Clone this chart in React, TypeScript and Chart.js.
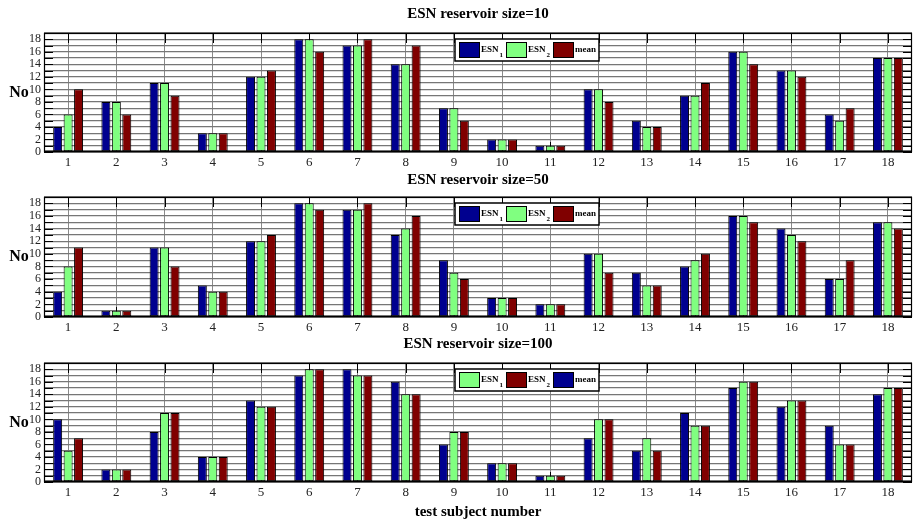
import React, { useEffect, useRef } from "react";
import { Chart, registerables } from "chart.js";

Chart.register(...registerables);

// ---------- data ----------
const categories = ["1", "2", "3", "4", "5", "6", "7", "8", "9", "10", "11", "12", "13", "14", "15", "16", "17", "18"];
const yLabelValues = [0, 2, 4, 6, 8, 10, 12, 14, 16, 18];
const yMax = 19;

// reservoir size = 10
const size10Blue = [4, 8, 11, 3, 12, 18, 17, 14, 7, 2, 1, 10, 5, 9, 16, 13, 6, 15];
const size10Green = [6, 8, 11, 3, 12, 18, 17, 14, 7, 2, 1, 10, 4, 9, 16, 13, 5, 15];
const size10Red = [10, 6, 9, 3, 13, 16, 18, 17, 5, 2, 1, 8, 4, 11, 14, 12, 7, 15];

// reservoir size = 50
const size50Blue = [4, 1, 11, 5, 12, 18, 17, 13, 9, 3, 2, 10, 7, 8, 16, 14, 6, 15];
const size50Green = [8, 1, 11, 4, 12, 18, 17, 14, 7, 3, 2, 10, 5, 9, 16, 13, 6, 15];
const size50Red = [11, 1, 8, 4, 13, 17, 18, 16, 6, 3, 2, 7, 5, 10, 15, 12, 9, 14];

// reservoir size = 100
const size100Blue = [10, 2, 8, 4, 13, 17, 18, 16, 6, 3, 1, 7, 5, 11, 15, 12, 9, 14];
const size100Green = [5, 2, 11, 4, 12, 18, 17, 14, 8, 3, 1, 10, 7, 9, 16, 13, 6, 15];
const size100Red = [7, 2, 11, 4, 12, 18, 17, 14, 8, 3, 1, 10, 5, 9, 16, 13, 6, 15];

const titles = ["ESN reservoir size=10", "ESN reservoir size=50", "ESN reservoir size=100"];
const yAxisLabel = "No";
const xAxisLabel = "test subject number";

const BLUE = "#00008F";
const GREEN = "#80FF80";
const RED = "#800000";

type LegendItem = { text: string; sub: string; color: string };

const legendA: LegendItem[] = [
  { text: "ESN", sub: "1", color: BLUE },
  { text: "ESN", sub: "2", color: GREEN },
  { text: "mean", sub: "", color: RED },
];
const legendB: LegendItem[] = [
  { text: "ESN", sub: "1", color: GREEN },
  { text: "ESN", sub: "2", color: RED },
  { text: "mean", sub: "", color: BLUE },
];

type PanelCfg = {
  title: string;
  blue: number[];
  green: number[];
  red: number[];
  labels: string[];
  legend: LegendItem[];
  top: number;
  height: number;
  padTop: number;
  padBottom: number;
  titleY: number;
  xlabelY: number | null;
};

const panels: PanelCfg[] = [
  {
    title: titles[0], blue: size10Blue, green: size10Green, red: size10Red,
    labels: ["ESN1", "ESN2", "mean"], legend: legendA,
    top: 0, height: 170, padTop: 33, padBottom: 0, titleY: 14, xlabelY: null,
  },
  {
    title: titles[1], blue: size50Blue, green: size50Green, red: size50Red,
    labels: ["ESN1", "ESN2", "mean"], legend: legendA,
    top: 170, height: 166, padTop: 27, padBottom: 1, titleY: 10, xlabelY: null,
  },
  {
    title: titles[2], blue: size100Blue, green: size100Green, red: size100Red,
    labels: ["mean", "ESN1", "ESN2"], legend: legendB,
    top: 336, height: 191, padTop: 27, padBottom: 27, titleY: 8, xlabelY: 176,
  },
];

const FONT = "'Liberation Serif', 'Times New Roman', serif";

const decorPlugin = {
  id: "decor",
  beforeDatasetsDraw(chart: any) {
    const { ctx, chartArea: a, scales } = chart;
    const xs = scales.x;
    const ys = scales.y;
    ctx.save();
    ctx.strokeStyle = "#000";
    ctx.lineWidth = 1;
    ctx.beginPath();
    for (let v = 0; v <= yMax; v++) {
      const py = Math.round(ys.getPixelForValue(v)) + 0.5;
      ctx.moveTo(a.left, py);
      ctx.lineTo(a.left + 9, py);
      ctx.moveTo(a.right, py);
      ctx.lineTo(a.right - 9, py);
    }
    for (let i = 0; i < categories.length; i++) {
      const px = Math.round(xs.getPixelForValue(i)) + 0.5;
      ctx.moveTo(px, a.top);
      ctx.lineTo(px, a.top + 10);
      ctx.moveTo(px, a.bottom);
      ctx.lineTo(px, a.bottom - 10);
    }
    ctx.stroke();
    ctx.restore();
  },
  afterDatasetsDraw(chart: any, _args: any, opts: any) {
    const { ctx, chartArea: a } = chart;
    ctx.save();
    ctx.strokeStyle = "#000";
    // frame
    ctx.lineWidth = 1.2;
    ctx.strokeRect(a.left + 0.5, a.top + 0.5, a.right - a.left - 1, a.bottom - a.top - 1);
    ctx.lineWidth = 2;
    ctx.beginPath();
    ctx.moveTo(a.left, a.bottom - 0.5);
    ctx.lineTo(a.right, a.bottom - 0.5);
    ctx.stroke();

    // legend
    const bx = a.left + 411;
    const by = a.top + 6;
    const bw = 144;
    const bh = 22;
    ctx.fillStyle = "#fff";
    ctx.fillRect(bx, by, bw, bh);
    ctx.lineWidth = 1.5;
    ctx.strokeRect(bx, by, bw, bh);
    const offsets = [4, 51, 98];
    (opts.legend as LegendItem[]).forEach((it, i) => {
      const sx = bx + offsets[i];
      ctx.fillStyle = it.color;
      ctx.fillRect(sx, by + 3.5, 20, 15);
      ctx.lineWidth = 1;
      ctx.strokeRect(sx + 0.5, by + 3.5, 20, 15);
      ctx.fillStyle = "#000";
      ctx.font = `bold 9px ${FONT}`;
      ctx.textAlign = "left";
      ctx.textBaseline = "middle";
      ctx.fillText(it.text, sx + 22, by + 10.5);
      if (it.sub) {
        const w = ctx.measureText(it.text).width;
        ctx.font = `bold 7px ${FONT}`;
        ctx.fillText(it.sub, sx + 23 + w, by + 16);
      }
    });
    ctx.restore();
  },
  afterDraw(chart: any, _args: any, opts: any) {
    const { ctx, chartArea: a } = chart;
    ctx.save();
    ctx.fillStyle = "#000";
    ctx.textAlign = "center";
    ctx.textBaseline = "middle";
    const cx = (a.left + a.right) / 2;
    ctx.font = `bold 15px ${FONT}`;
    ctx.fillText(opts.title, cx, opts.titleY);
    ctx.font = `bold 16px ${FONT}`;
    ctx.fillText(yAxisLabel, 19, (a.top + a.bottom) / 2);
    if (opts.xlabelY != null) {
      ctx.font = `bold 15px ${FONT}`;
      ctx.fillText(xAxisLabel, cx, opts.xlabelY);
    }
    ctx.restore();
  },
};

function Panel({ cfg }: { cfg: PanelCfg }) {
  const ref = useRef<HTMLCanvasElement>(null);
  useEffect(() => {
    const common = {
      borderColor: "#000",
      borderWidth: 1,
      borderSkipped: false,
      categoryPercentage: 0.65,
      barPercentage: 0.86,
    };
    const chart = new Chart(ref.current as HTMLCanvasElement, {
      type: "bar",
      data: {
        labels: categories,
        datasets: [
          { ...common, label: cfg.labels[0], data: cfg.blue, backgroundColor: BLUE },
          { ...common, label: cfg.labels[1], data: cfg.green, backgroundColor: GREEN },
          { ...common, label: cfg.labels[2], data: cfg.red, backgroundColor: RED },
        ] as any,
      },
      options: {
        responsive: false,
        animation: false,
        layout: { padding: { top: cfg.padTop, bottom: cfg.padBottom, left: 0, right: 2 } },
        plugins: {
          legend: { display: false },
          title: { display: false },
          tooltip: { enabled: false },
          decor: { title: cfg.title, titleY: cfg.titleY, legend: cfg.legend, xlabelY: cfg.xlabelY },
        } as any,
        scales: {
          x: {
            grid: { offset: false, color: "#8a8a8a", lineWidth: 1, drawTicks: false },
            border: { display: false },
            ticks: {
              autoSkip: false,
              maxRotation: 0,
              padding: 3,
              color: "#222",
              font: { family: FONT, size: 13 },
            },
            afterFit: (s: any) => {
              s.height = 18;
            },
          },
          y: {
            min: 0,
            max: yMax,
            grid: { color: "#767676", lineWidth: 1.3, drawTicks: false },
            border: { display: false },
            ticks: {
              stepSize: 1,
              autoSkip: false,
              padding: 3,
              color: "#222",
              font: { family: FONT, size: 12 },
              callback: (v: any) => (yLabelValues.includes(Number(v)) ? String(v) : ""),
            },
            afterFit: (s: any) => {
              s.width = 44;
            },
          },
        } as any,
      },
      plugins: [decorPlugin as any],
    });
    return () => chart.destroy();
  }, [cfg]);
  return (
    <canvas
      ref={ref}
      width={914}
      height={cfg.height}
      style={{ position: "absolute", left: 0, top: cfg.top, width: 914, height: cfg.height }}
    />
  );
}

export default function App() {
  return (
    <div style={{ position: "absolute", left: 0, top: 0, width: 914, height: 527, background: "#fff", overflow: "hidden" }}>
      {panels.map((p, i) => (
        <Panel key={i} cfg={p} />
      ))}
    </div>
  );
}
